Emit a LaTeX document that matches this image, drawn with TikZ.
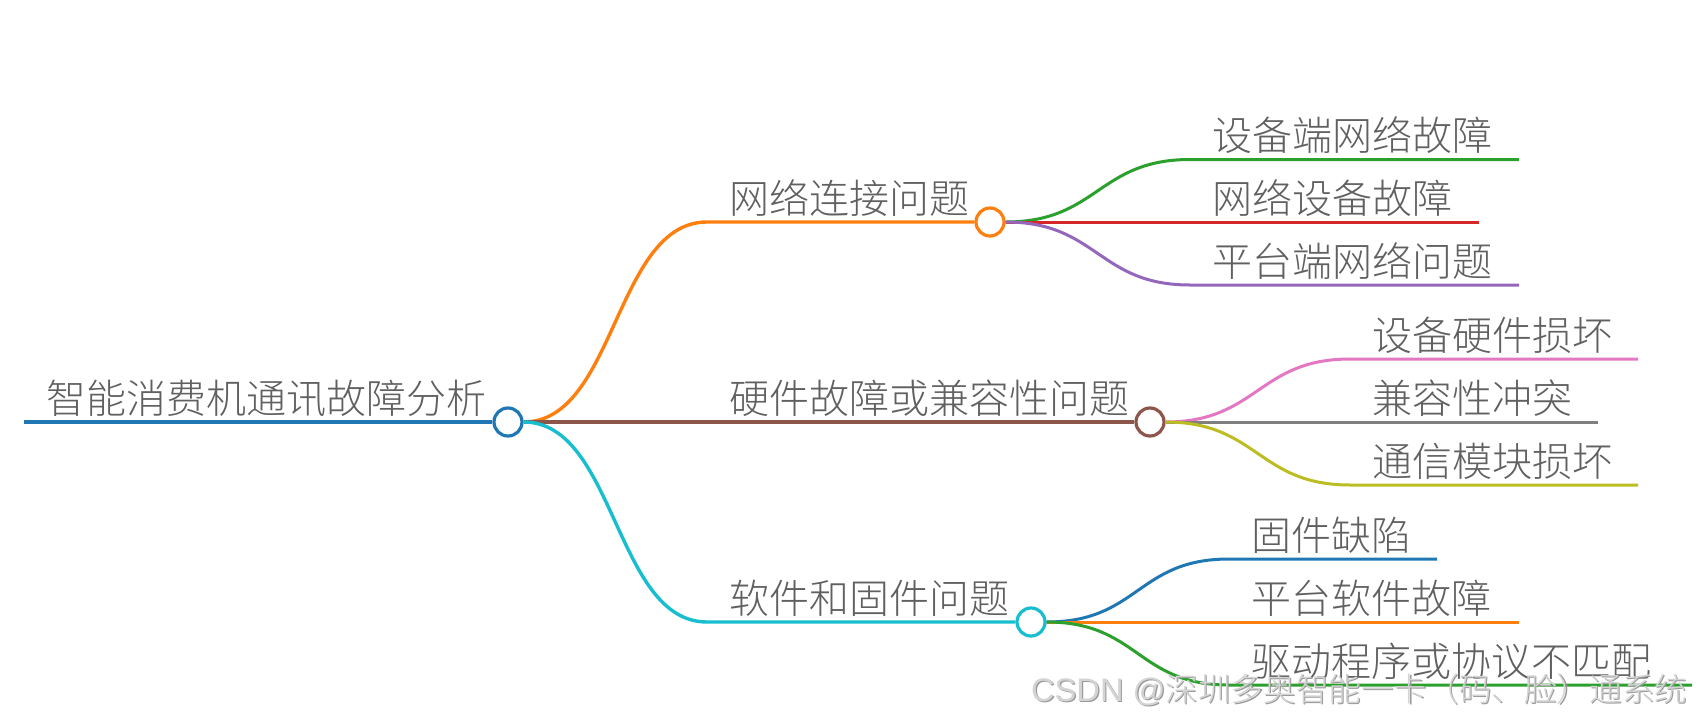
\documentclass[tikz,border=0pt]{standalone}
\usepackage{fontspec}
\IfFontExistsTF{Noto Sans CJK SC Light}{\setmainfont{Noto Sans CJK SC Light}}{\setmainfont{Noto Sans CJK SC}}
\newfontfamily\wmlatin{Liberation Sans}
\usetikzlibrary{calc}
\definecolor{cblue}{HTML}{1F77B4}
\definecolor{corange}{HTML}{FF7F0E}
\definecolor{cgreen}{HTML}{2CA02C}
\definecolor{cred}{HTML}{D62728}
\definecolor{cpurple}{HTML}{9467BD}
\definecolor{cbrown}{HTML}{8C564B}
\definecolor{cpink}{HTML}{E377C2}
\definecolor{cgray}{HTML}{7F7F7F}
\definecolor{colive}{HTML}{BCBD22}
\definecolor{ccyan}{HTML}{17BECF}
\definecolor{txtgray}{HTML}{606060}
\definecolor{wmfill}{HTML}{D4D4D4}
\definecolor{wmshadow}{HTML}{9A9A9A}
\tikzset{
  dot/.style={circle, draw, fill=white, line width=3.2pt, minimum size=28pt, inner sep=0pt},
  lbl/.style={anchor=base west, inner sep=0pt, text=txtgray, font=\fontsize{40}{40}\selectfont},
  wm/.style={anchor=base west, inner sep=0pt, font=\fontsize{32.6}{32.6}\selectfont},
  lw0/.style={line width=4pt},
  lw1/.style={line width=3.4pt},
  lw2/.style={line width=3pt},
}
\newcommand\mmcurve[4]{\draw[#1] (#2) .. controls ($(#2)+(92,0)$) and ($(#3)+(-92,0)$) .. (#3) -- (#4);}
\newcommand\wmtext{{\wmlatin CSDN @}深圳多奥智能一卡（码、脸）通系统}
\begin{document}
\begin{tikzpicture}[x=1pt,y=-1pt]
\useasboundingbox (0,0) rectangle (1701,720);
\fill[white] (0,0) rectangle (1701,720);

% root
\coordinate (r0) at (24,422);
\node[dot, draw=cblue] (root) at (508,422) {};
\draw[cblue, lw0] (r0) -- (root.west);
\node[lbl] (troot) at (46,413) {智能消费机通讯故障分析};

% level 1 nodes
\node[dot, draw=corange] (a) at (990,222) {};
\node[dot, draw=cbrown] (b) at (1150,422) {};
\node[dot, draw=ccyan] (c) at (1031,622) {};
\coordinate (a0) at (707,222);
\coordinate (c0) at (707,622);
\mmcurve{corange, lw1}{root.east}{a0}{a.west}
\draw[cbrown, lw1] (root.east) -- (b.west);
\mmcurve{ccyan, lw1}{root.east}{c0}{c.west}
\node[lbl] (ta) at (729,213) {网络连接问题};
\node[lbl] (tb) at (729,413) {硬件故障或兼容性问题};
\node[lbl] (tc) at (729,613) {软件和固件问题};

% level 2 under a
\coordinate (a1s) at (1190,159.5); \coordinate (a1e) at (1519,159.5);
\coordinate (a2s) at (1190,222);   \coordinate (a2e) at (1479,222);
\coordinate (a3s) at (1190,285);   \coordinate (a3e) at (1519,285);
\mmcurve{cgreen, lw2}{a.east}{a1s}{a1e}
\draw[cred, lw2] (a.east) -- (a2e);
\mmcurve{cpurple, lw2}{a.east}{a3s}{a3e}
\node[lbl] (ta1) at (1212,150.5) {设备端网络故障};
\node[lbl] (ta2) at (1212,213) {网络设备故障};
\node[lbl] (ta3) at (1212,276) {平台端网络问题};

% level 2 under b
\coordinate (b1s) at (1350,359); \coordinate (b1e) at (1638,359);
\coordinate (b2s) at (1350,422); \coordinate (b2e) at (1598,422);
\coordinate (b3s) at (1350,485); \coordinate (b3e) at (1638,485);
\mmcurve{cpink, lw2}{b.east}{b1s}{b1e}
\draw[cgray, lw2] (b.east) -- (b2e);
\mmcurve{colive, lw2}{b.east}{b3s}{b3e}
\node[lbl] (tb1) at (1372,350) {设备硬件损坏};
\node[lbl] (tb2) at (1372,413) {兼容性冲突};
\node[lbl] (tb3) at (1372,476) {通信模块损坏};

% level 2 under c
\coordinate (c1s) at (1229,559); \coordinate (c1e) at (1437,559);
\coordinate (c2s) at (1229,622); \coordinate (c2e) at (1519,622);
\coordinate (c3s) at (1229,685); \coordinate (c3e) at (1692,685);
\mmcurve{cblue, lw2}{c.east}{c1s}{c1e}
\draw[corange, lw2] (c.east) -- (c2e);
\mmcurve{cgreen, lw2}{c.east}{c3s}{c3e}
\node[lbl] (tc1) at (1251,550) {固件缺陷};
\node[lbl] (tc2) at (1251,613) {平台软件故障};
\node[lbl] (tc3) at (1251,676) {驱动程序或协议不匹配};

% watermark
\node[wm, text=wmshadow] (wms) at (1032.2,702.2) {\wmtext};
\node[wm, text=wmfill] (wmt) at (1031,701) {\wmtext};
\end{tikzpicture}
\end{document}
